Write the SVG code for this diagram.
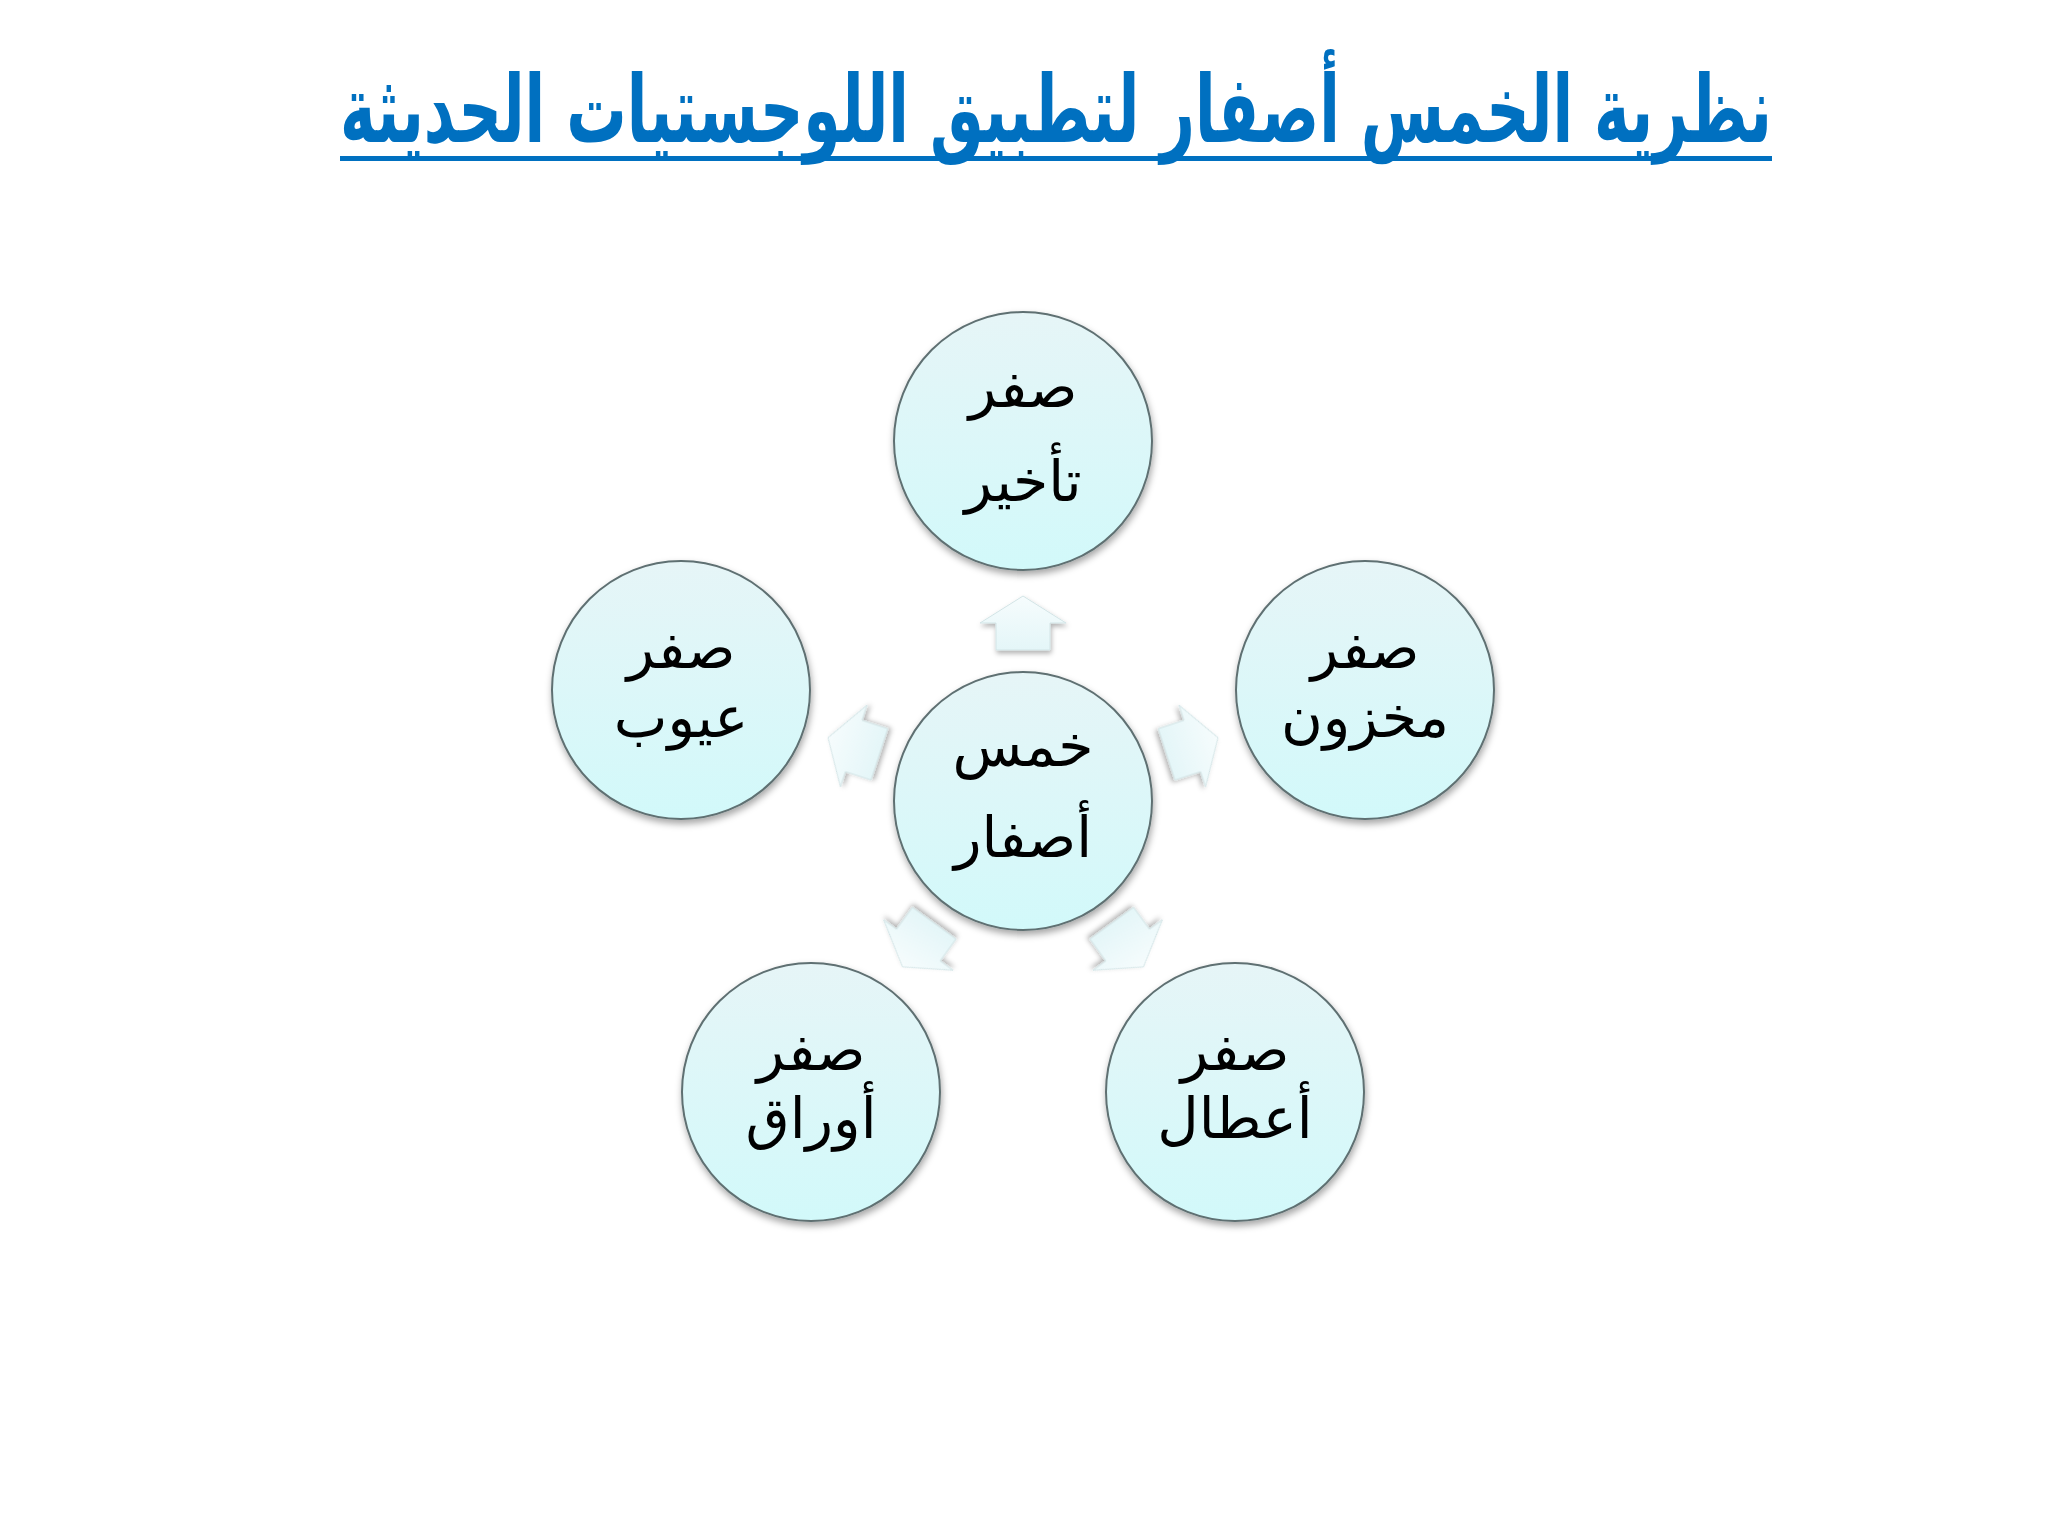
<svg xmlns="http://www.w3.org/2000/svg" width="2048" height="1536" viewBox="0 0 2048 1536">
  <defs>
    <linearGradient id="circFill" x1="0" y1="0" x2="0" y2="1">
      <stop offset="0" stop-color="#e6f5f7"/>
      <stop offset="1" stop-color="#d2f9fa"/>
    </linearGradient>
    <linearGradient id="arrowFill" x1="0" y1="0" x2="0" y2="1">
      <stop offset="0" stop-color="#f6fcfd"/>
      <stop offset="1" stop-color="#e4f6f8"/>
    </linearGradient>
    <filter id="shadow" x="-20%" y="-20%" width="140%" height="140%">
      <feDropShadow dx="1" dy="4" stdDeviation="3.5" flood-color="#000" flood-opacity="0.35"/>
    </filter>
    <filter id="ashadow" x="-30%" y="-30%" width="160%" height="160%">
      <feDropShadow dx="1" dy="3" stdDeviation="2.5" flood-color="#000" flood-opacity="0.3"/>
    </filter>
    <path id="arrowUp" d="M0,-205 L43,-178 L27,-178 L27,-151 L-27,-151 L-27,-178 L-43,-178 Z"/>
  </defs>
  <style>
    .node circle { fill: url(#circFill); stroke: #5f7072; stroke-width: 2; filter: url(#shadow); }
    .lbl { font-family: "DejaVu Sans", sans-serif; font-size: 57px; fill: #000; text-anchor: middle; direction: rtl; }
    .arrow { fill: url(#arrowFill); stroke: #d2e4e6; stroke-width: 1; filter: url(#ashadow); }
    .title { font-family: "DejaVu Sans", sans-serif; font-weight: bold; font-size: 94px; fill: #0070c0; text-anchor: middle; direction: rtl; }
  </style>
  <rect x="0" y="0" width="2048" height="1536" fill="#ffffff"/>

  <g id="title">
    <text class="title" x="1056" y="142" textLength="1432" lengthAdjust="spacingAndGlyphs">نظرية الخمس أصفار لتطبيق اللوجستيات الحديثة</text>
    <rect x="340" y="156" width="1432" height="5" fill="#0070c0"/>
  </g>

  <g id="connectors">
    <use href="#arrowUp" class="arrow" transform="translate(1023,801)"/>
    <use href="#arrowUp" class="arrow" transform="translate(1023,801) rotate(72)"/>
    <use href="#arrowUp" class="arrow" transform="translate(1023,801) rotate(144)"/>
    <use href="#arrowUp" class="arrow" transform="translate(1023,801) rotate(216)"/>
    <use href="#arrowUp" class="arrow" transform="translate(1023,801) rotate(288)"/>
  </g>

  <g id="node-center" class="node">
    <circle cx="1023" cy="801" r="129"/>
    <text class="lbl" x="1023" y="766">خمس</text>
    <text class="lbl" x="1023" y="857">أصفار</text>
  </g>
  <g id="node-top" class="node">
    <circle cx="1023" cy="441" r="129"/>
    <text class="lbl" x="1023" y="407">صفر</text>
    <text class="lbl" x="1023" y="501">تأخير</text>
  </g>
  <g id="node-right" class="node">
    <circle cx="1365" cy="690" r="129"/>
    <text class="lbl" x="1365" y="668">صفر</text>
    <text class="lbl" x="1365" y="737">مخزون</text>
  </g>
  <g id="node-bottom-right" class="node">
    <circle cx="1235" cy="1092" r="129"/>
    <text class="lbl" x="1235" y="1070">صفر</text>
    <text class="lbl" x="1235" y="1138">أعطال</text>
  </g>
  <g id="node-bottom-left" class="node">
    <circle cx="811" cy="1092" r="129"/>
    <text class="lbl" x="811" y="1070">صفر</text>
    <text class="lbl" x="811" y="1138">أوراق</text>
  </g>
  <g id="node-left" class="node">
    <circle cx="681" cy="690" r="129"/>
    <text class="lbl" x="681" y="668">صفر</text>
    <text class="lbl" x="681" y="737">عيوب</text>
  </g>
</svg>
